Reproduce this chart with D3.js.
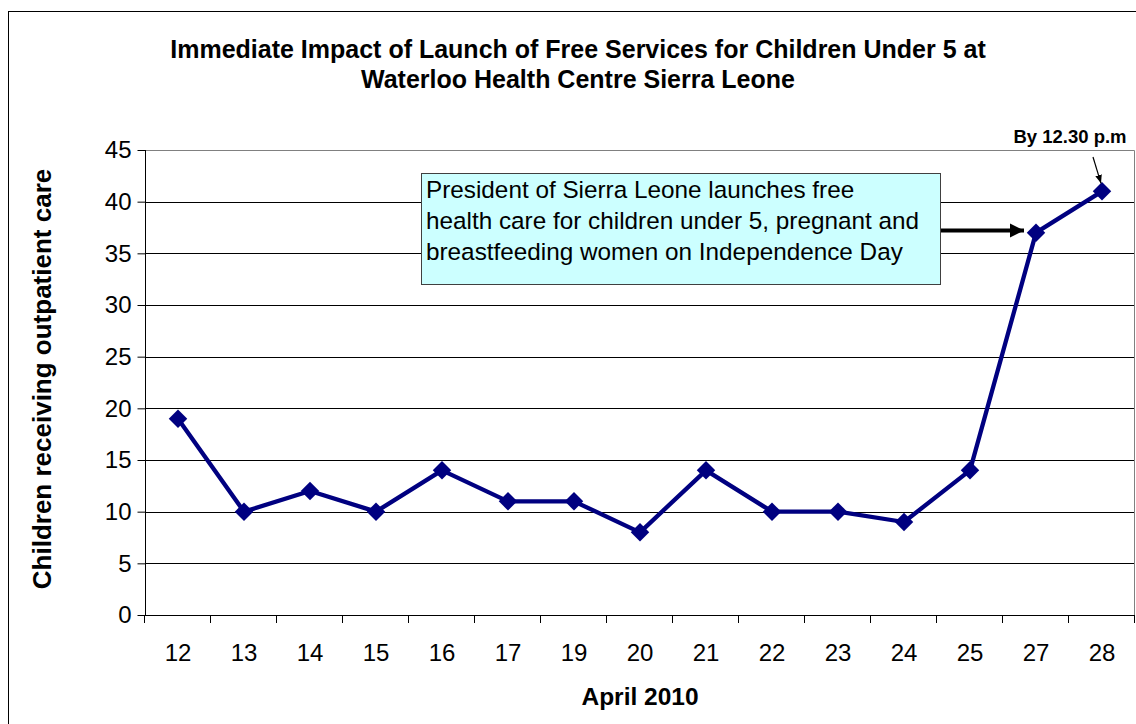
<!DOCTYPE html>
<html><head><meta charset="utf-8">
<script src="https://cdn.jsdelivr.net/npm/d3@7"></script>
<style>html,body{margin:0;padding:0;background:#fff;} svg{display:block;font-family:"Liberation Sans",Arial,sans-serif;}</style>
</head><body>
<script>
const days = ["12","13","14","15","16","17","19","20","21","22","23","24","25","27","28"];
const children = [19,10,12,10,14,11,11,8,14,10,10,9,14,37,41];
const yTicks = [0,5,10,15,20,25,30,35,40,45];
const titleLines = ["Immediate Impact of Launch of Free Services for Children Under 5 at","Waterloo Health Centre Sierra Leone"];
const noteLines = ["President of Sierra Leone launches free","health care for children under 5, pregnant and","breastfeeding women on Independence Day"];

const W=1136,H=724;
const svg=d3.select("body").append("svg").attr("width",W).attr("height",H);
svg.append("defs").html(`
<marker id="ah" viewBox="0 0 10 10" refX="10" refY="5" markerWidth="3.6" markerHeight="3.6" orient="auto" markerUnits="strokeWidth"><path d="M0,0 L10,5 L0,10 z" fill="#000"/></marker>
<marker id="ah2" viewBox="0 0 10 10" refX="10" refY="5" markerWidth="7" markerHeight="7" orient="auto" markerUnits="strokeWidth"><path d="M0,1 L10,5 L0,9 z" fill="#000"/></marker>`);

svg.append("rect").attr("x",8.5).attr("y",11.5).attr("width",1140).attr("height",720).attr("fill","#fff").attr("stroke","#000");

const L=145,R=1135,T=150,B=615;
const x=d3.scaleBand().domain(days).range([L,R]).padding(0);
const y=d3.scaleLinear().domain([0,45]).range([B,T]);

// gridlines
svg.append("g").selectAll("line").data(yTicks.filter(v=>v>0&&v<45)).join("line")
  .attr("x1",L).attr("x2",R).attr("y1",d=>Math.round(y(d))+0.5).attr("y2",d=>Math.round(y(d))+0.5)
  .attr("stroke","#000").attr("stroke-width",1);
// plot border top/right gray
svg.append("path").attr("d",`M${L},${T+0.5}H${R-0.5}V${B}`).attr("fill","none").attr("stroke","#808080");

// y axis
const ya=svg.append("g").attr("transform",`translate(${L+0.5},0)`)
  .call(d3.axisLeft(y).tickValues(yTicks).tickSize(8).tickPadding(6));
ya.select(".domain").attr("d",`M0,${T}V${B}`).attr("stroke","#000");
ya.selectAll(".tick line").attr("stroke","#000");
ya.selectAll("text").attr("font-size",24).attr("fill","#000").attr("font-family","Liberation Sans, Arial, sans-serif");

// x axis: labels at band centres, ticks at band edges
const xa=svg.append("g").attr("transform",`translate(0,${B+0.5})`)
  .call(d3.axisBottom(x).tickSize(0).tickPadding(28));
xa.select(".domain").remove();
xa.selectAll("text").attr("font-size",24).attr("fill","#000").attr("font-family","Liberation Sans, Arial, sans-serif");
svg.append("line").attr("x1",L).attr("x2",R).attr("y1",B+0.5).attr("y2",B+0.5).attr("stroke","#000");
svg.append("g").selectAll("line").data(days.concat(["end"])).join("line")
  .attr("x1",(d,i)=>Math.round(i<days.length?x(d):R)-0.5).attr("x2",(d,i)=>Math.round(i<days.length?x(d):R)-0.5)
  .attr("y1",B).attr("y2",B+8).attr("stroke","#000");

// line
const pts=days.map((d,i)=>[x(d)+x.bandwidth()/2,y(children[i])]);
svg.append("path").attr("d",d3.line()(pts)).attr("fill","none").attr("stroke","#000080").attr("stroke-width",4.3).attr("stroke-linejoin","round");
svg.append("g").selectAll("path").data(pts).join("path")
  .attr("d",d3.symbol(d3.symbolSquare,170)())
  .attr("transform",d=>`translate(${d[0]},${d[1]}) rotate(45)`).attr("fill","#000080");

// title
svg.append("g").selectAll("text").data(titleLines).join("text")
  .attr("x",578).attr("y",(d,i)=>58+i*30).attr("text-anchor","middle")
  .attr("font-size",25).attr("font-weight","bold").text(d=>d);

// axis titles
svg.append("text").attr("transform","translate(51,379) rotate(-90)").attr("text-anchor","middle")
  .attr("font-size",26).attr("font-weight","bold").text("Children receiving outpatient care");
svg.append("text").attr("x",640).attr("y",705).attr("text-anchor","middle")
  .attr("font-size",24.5).attr("font-weight","bold").text("April 2010");

// annotation box
svg.append("rect").attr("x",421.5).attr("y",173.5).attr("width",519).attr("height",111).attr("fill","#ccffff").attr("stroke","#404040");
svg.append("g").selectAll("text").data(noteLines).join("text")
  .attr("x",426).attr("y",(d,i)=>198+i*31).attr("font-size",24.3).text(d=>d);
const p27=pts[13];
svg.append("line").attr("x1",941).attr("y1",230.5).attr("x2",p27[0]-12).attr("y2",230.5)
  .attr("stroke","#000").attr("stroke-width",4).attr("marker-end","url(#ah)");

// small note
const p28=pts[14];
svg.append("text").attr("x",1070).attr("y",143).attr("text-anchor","middle").attr("font-size",18.5).attr("font-weight","bold").text("By 12.30 p.m");
svg.append("line").attr("x1",1093).attr("y1",157).attr("x2",p28[0]-1).attr("y2",p28[1]-8)
  .attr("stroke","#000").attr("stroke-width",1.2).attr("marker-end","url(#ah2)");
</script>
</body></html>
